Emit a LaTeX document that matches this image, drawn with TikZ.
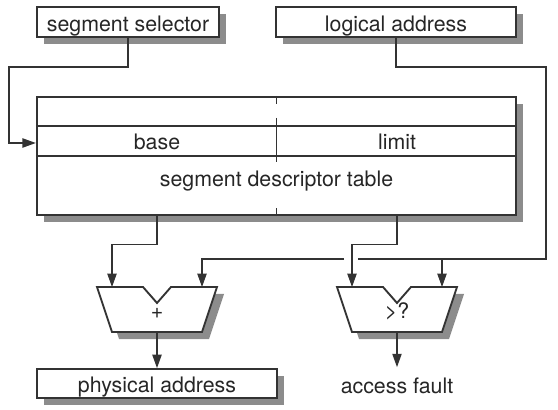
\documentclass[tikz,border=0pt]{standalone}
\usepackage{fontspec}
\setmainfont{TeX Gyre Heros}
\usepackage{tikz}
\usetikzlibrary{arrows.meta}

\definecolor{shadowgray}{RGB}{140,140,140}
\tikzset{
  box/.style={draw=black!80, line width=1.4pt, fill=white},
  boxtext/.style={text height=14pt, text depth=0pt},
  conn/.style={draw=black!80, line width=0.8pt},
  arr/.style={conn, -{Triangle[length=10pt,width=7pt]}},
  alu/.pic={
    \fill[shadowgray] (-53,7) -- (-7,7) -- (7,23) -- (21,7) -- (67,7) -- (52,52) -- (-38,52) -- cycle;
    \path[box] (-60,0) -- (-14,0) -- (0,16) -- (14,0) -- (60,0) -- (45,45) -- (-45,45) -- cycle;
  }
}

\begin{document}
\begin{tikzpicture}[x=0.75pt, y=-0.75pt, font=\fontsize{16pt}{19pt}\selectfont, text=black!85]
        \useasboundingbox (0,0) rectangle (558,410);
        % shadows
        \fill[shadowgray] (44,14) rectangle (226,44);
        \fill[shadowgray] (283,14) rectangle (523,44);
        \fill[shadowgray] (44,104) rectangle (523,222);
        \fill[shadowgray] (44,376) rectangle (284,405);
        % inputs
        \node[box, boxtext, minimum width=136.5pt, minimum height=22.5pt] (sel) at (128,22) {segment selector};
        \node[box, boxtext, minimum width=180pt, minimum height=22.5pt] (logic) at (396,22) {logical address};
        % descriptor table
        \node[box, line width=1.8pt, minimum width=359.25pt, minimum height=88.5pt] (tbl) at (276.5,156) {};
        \draw[conn, line width=1.1pt] (tbl.west |- 0,126) -- (tbl.east |- 0,126)
        (tbl.west |- 0,156) -- (tbl.east |- 0,156);
        \draw[conn] (tbl.north) -- ++(0,8) (276.5,118) -- (276.5,162) (tbl.south) -- ++(0,-8);
        \node[anchor=base] (base) at (157,149.5) {base};
        \node[anchor=base] (limit) at (397,149.5) {limit};
        \node[anchor=base] (title) at (276.5,186) {segment descriptor table};
        % adder and comparator
        \pic at (157,287) {alu};
        \pic at (397,287) {alu};
        \node[anchor=base] (add) at (157,318) {+};
        \node[anchor=base] (cmp) at (397,318) {>?};
        \coordinate (addA) at (112,287);
        \coordinate (addB) at (202,287);
        \coordinate (addO) at (157,332);
        \coordinate (cmpA) at (352,287);
        \coordinate (cmpB) at (442,287);
        \coordinate (cmpO) at (397,332);
        % outputs
        \node[box, boxtext, minimum width=180pt, minimum height=21.75pt] (phys) at (157,383.5) {physical address};
        \node[anchor=base, inner sep=0pt] (fault) at (397,393) {access fault};
        % wires
        \draw[arr] (sel.south) |- (9,67) |- (tbl.west |- 0,143);
        \draw[conn] (logic.south) |- (546,67) |- (358,259);
        \draw[arr] (344,259) -| (addB);
        \draw[arr] (cmpB |- 0,259) -- (cmpB);
        \draw[arr] (base |- tbl.south) -- ++(0,28) -| (addA);
        \draw[arr] (limit |- tbl.south) -- ++(0,28) -| (cmpA);
        \draw[arr] (addO) -- (phys.north);
        \draw[arr, shorten >=7.5pt] (cmpO) -- (fault.north);
    \end{tikzpicture}
\end{document}
